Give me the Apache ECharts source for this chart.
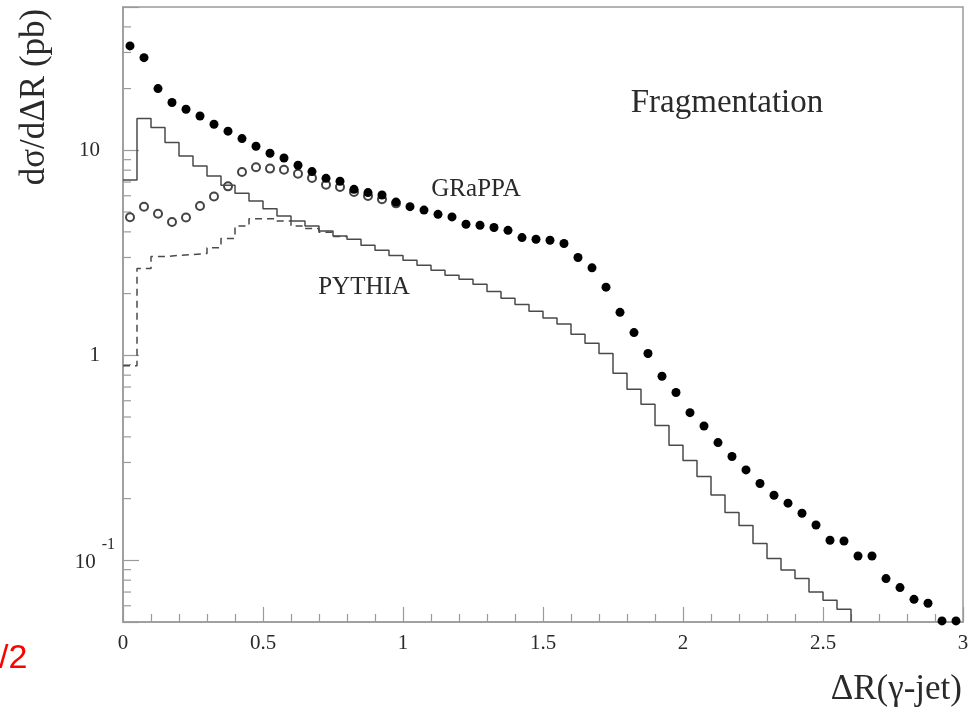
<!DOCTYPE html>
<html>
<head>
<meta charset="utf-8">
<script src="https://cdn.jsdelivr.net/npm/echarts@6/dist/echarts.min.js"></script>
<style>
  html, body { margin: 0; padding: 0; background: #fff; }
  #chart { width: 976px; height: 710px; }
</style>
</head>
<body>
<div id="chart"></div>
<script>
// bins of 0.05 in dR, from 0 to 3
const binWidth = 0.05;
const yMin = 0.05;
const yMax = 50;

// GRaPPA, filled dots (one per bin)
const grappaFilled = [
  32.3, 28.3, 20.0, 17.1, 15.85, 14.7, 13.4, 12.4, 11.4, 10.46,
  9.67, 9.17, 8.45, 7.87, 7.30, 7.06, 6.45, 6.22, 6.05, 5.59,
  5.31, 5.11, 4.87, 4.73, 4.36, 4.31, 4.20, 4.07, 3.75, 3.68,
  3.64, 3.51, 3.00, 2.67, 2.15, 1.62, 1.29, 1.02, 0.79, 0.658,
  0.525, 0.452, 0.375, 0.321, 0.276, 0.237, 0.2075, 0.190, 0.1696, 0.1487,
  0.1252, 0.1242, 0.105, 0.105, 0.0814, 0.0736, 0.0645, 0.0617, 0.0506, 0.0506
];

// open circles, first bins only (rest sit under the filled dots)
const grappaOpen = [
  4.71, 5.30, 4.90, 4.47, 4.70, 5.35, 5.95, 6.67, 7.84, 8.26,
  8.14, 8.03, 7.68, 7.33, 6.79, 6.62, 6.26, 5.99, 5.77, 5.51
];

// PYTHIA solid histogram
const pythiaSolid = [
  7.17, 14.28, 12.9, 10.9, 9.38, 8.38, 7.49, 6.75, 6.17, 5.66,
  5.19, 4.78, 4.52, 4.27, 4.04, 3.82, 3.68, 3.44, 3.25, 3.07,
  2.91, 2.75, 2.60, 2.46, 2.35, 2.22, 2.05, 1.90, 1.77, 1.64,
  1.52, 1.42, 1.266, 1.144, 1.02, 0.817, 0.682, 0.577, 0.455, 0.364,
  0.307, 0.256, 0.208, 0.171, 0.148, 0.1207, 0.102, 0.0897, 0.0814, 0.070,
  0.0638, 0.0577
];

// PYTHIA dashed histogram (merges with the solid one after ~0.8)
const pythiaDashed = [
  0.89, 2.65, 3.03, 3.07, 3.10, 3.14, 3.35, 3.71, 4.27, 4.64,
  4.64, 4.52, 4.27, 4.15, 3.98, 3.80
];

const yMinorTicks = [
  0.06, 0.07, 0.08, 0.09,
  0.2, 0.3, 0.4, 0.5, 0.6, 0.7, 0.8, 0.9,
  2, 3, 4, 5, 6, 7, 8, 9,
  20, 30, 40
];

const serif = 'Liberation Serif';
const textColor = '#2a2a2a';
const frameColor = '#9a9a9a';

// points at bin centres
const toPoints = vals => vals.map((v, i) => [binWidth * (i + 0.5), v]);

// step line: each point at the bin's left edge, plus the closing edge
const toSteps = (vals, dropTo) => {
  const pts = vals.map((v, i) => [binWidth * i, v]);
  pts.push([binWidth * vals.length, vals[vals.length - 1]]);
  if (dropTo != null) pts.push([binWidth * vals.length, dropTo]);
  return pts;
};

const chart = echarts.init(document.getElementById('chart'));

const option = {
  animation: false,
  backgroundColor: '#fff',
  grid: {
    left: 123, right: 13, top: 7, bottom: 88,
    show: true, borderColor: frameColor, borderWidth: 1.5
  },
  xAxis: {
    type: 'value',
    min: 0, max: 3, interval: 0.5,
    axisLine: { show: true, lineStyle: { color: frameColor, width: 1.5 } },
    axisTick: { show: true, inside: true, length: 15, lineStyle: { color: frameColor, width: 1.2 } },
    minorTick: { show: true, splitNumber: 5, length: 8, lineStyle: { color: frameColor, width: 1.2 } },
    splitLine: { show: false },
    axisLabel: { color: textColor, fontFamily: serif, fontSize: 21, margin: 11 }
  },
  yAxis: {
    type: 'log',
    logBase: 10,
    min: yMin, max: yMax,
    axisLine: { show: true, lineStyle: { color: frameColor, width: 1.5 } },
    axisTick: { show: true, inside: true, length: 16, lineStyle: { color: frameColor, width: 1.2 } },
    splitLine: { show: false },
    axisLabel: {
      margin: 8,
      color: textColor,
      fontFamily: serif,
      formatter: v => {
        const e = Math.log10(v);
        if (Math.abs(e - Math.round(e)) > 1e-6) return '';
        const k = Math.round(e);
        if (k === 1) return '{n|10}';
        if (k === 0) return '{n|1}';
        return '{b|10}{s|' + k + '}';
      },
      rich: {
        n: { fontFamily: serif, fontSize: 21, color: textColor, padding: [0, 15, 0, 0] },
        b: { fontFamily: serif, fontSize: 21, color: textColor, padding: [15, 0, 10, 0] },
        s: { fontFamily: serif, fontSize: 16, color: textColor, verticalAlign: 'top', padding: [0, 0, 0, 6] }
      }
    }
  },
  series: [
    {
      name: 'minor ticks',
      type: 'custom',
      silent: true,
      clip: false,
      data: yMinorTicks.map(v => [0, v]),
      encode: { x: 0, y: 1 },
      renderItem: (params, api) => {
        const p = api.coord([0, api.value(1)]);
        return {
          type: 'line',
          shape: { x1: p[0], y1: p[1], x2: p[0] + 8, y2: p[1] },
          style: { stroke: frameColor, lineWidth: 1.2 }
        };
      }
    },
    {
      name: 'PYTHIA',
      type: 'line',
      step: 'end',
      data: toSteps(pythiaSolid, yMin),
      showSymbol: false,
      clip: true,
      lineStyle: { color: '#4a4a4a', width: 1.5 }
    },
    {
      name: 'PYTHIA dashed',
      type: 'line',
      step: 'end',
      data: toSteps(pythiaDashed),
      showSymbol: false,
      clip: true,
      lineStyle: { color: '#4a4a4a', width: 1.5, type: [7, 5] }
    },
    {
      name: 'GRaPPA open',
      type: 'scatter',
      data: toPoints(grappaOpen),
      symbol: 'emptyCircle',
      symbolSize: 8,
      itemStyle: { color: '#444', borderWidth: 1.2, opacity: 1 }
    },
    {
      name: 'GRaPPA',
      type: 'scatter',
      data: toPoints(grappaFilled),
      symbol: 'circle',
      symbolSize: 9,
      itemStyle: { color: '#000', opacity: 1 }
    }
  ],
  graphic: [
    {
      type: 'text', x: 35, y: 97, rotation: Math.PI / 2,
      style: { text: 'dσ/dΔR (pb)', font: '35px "Liberation Serif"', fill: textColor, align: 'center', verticalAlign: 'middle' }
    },
    {
      type: 'text', x: 962, y: 690,
      style: { text: 'ΔR(γ-jet)', font: '35px "Liberation Serif"', fill: textColor, align: 'right', verticalAlign: 'middle' }
    },
    {
      type: 'text', x: 727, y: 103,
      style: { text: 'Fragmentation', font: '33px "Liberation Serif"', fill: textColor, align: 'center', verticalAlign: 'middle' }
    },
    {
      type: 'text', x: 476, y: 189,
      style: { text: 'GRaPPA', font: '25px "Liberation Serif"', fill: textColor, align: 'center', verticalAlign: 'middle' }
    },
    {
      type: 'text', x: 364, y: 287,
      style: { text: 'PYTHIA', font: '25px "Liberation Serif"', fill: textColor, align: 'center', verticalAlign: 'middle' }
    },
    {
      type: 'text', x: -1, y: 659,
      style: { text: '/2', font: '34px "Liberation Sans"', fill: '#ff0000', align: 'left', verticalAlign: 'middle' }
    }
  ]
};

chart.setOption(option);
</script>
</body>
</html>
